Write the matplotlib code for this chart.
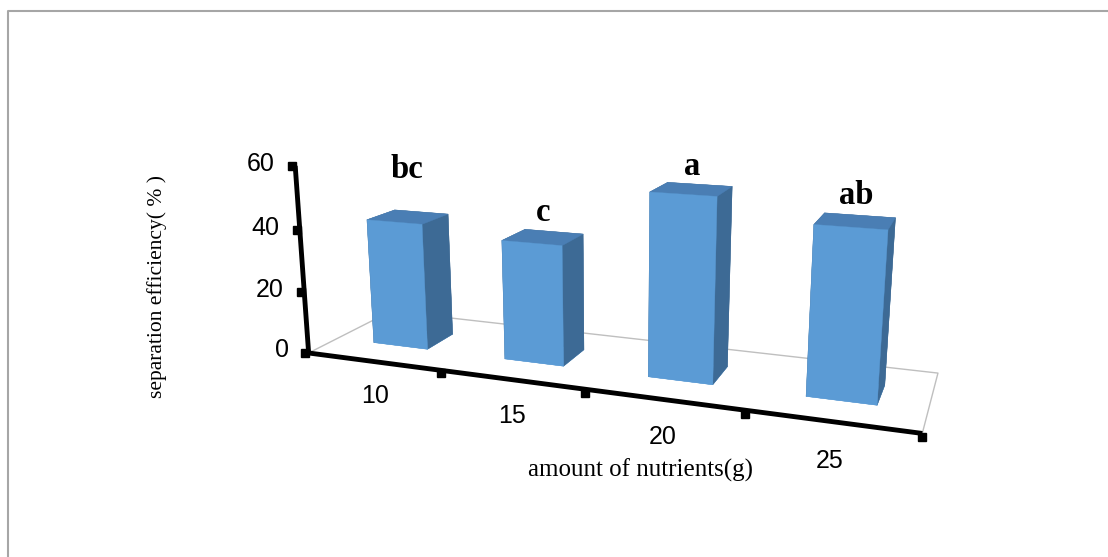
import numpy as np
import matplotlib
matplotlib.use('Agg')
import matplotlib.pyplot as plt
from matplotlib.lines import Line2D

# ---- data ----
categories = ['10', '15', '20', '25']
values = [41, 38, 56, 50]
letters = ['bc', 'c', 'a', 'ab']
letter_lift = [10.5, 3, 2.2, 2.8]
y_ticks = [0, 20, 40, 60]
x_title = 'amount of nutrients(g)'
y_title = 'separation efficiency( % )'

W, H = 1108, 557
fig = plt.figure(figsize=(W / 100, H / 100), dpi=100)
fig.patch.set_facecolor('white')

ax = fig.add_axes([0.3213, 0.0521, 0.4552, 0.9056], projection='3d',
                  computed_zorder=False)
ax.set_xlim(0, len(categories))
ax.set_ylim(0, 1)
ax.set_zlim(0, y_ticks[-1])
ax.set_box_aspect((0.508, 0.133, 0.161), zoom=1.3)
ax.view_init(elev=14.4, azim=-69.8)
ax.set_proj_type('persp', focal_length=0.41)
ax.set_axis_off()
for a in (ax.xaxis, ax.yaxis, ax.zaxis):
    a.label.set_visible(False)
    a.offsetText.set_visible(False)
    a.set_ticks([])

n = len(categories)
nx = float(n)

# floor outline
ax.plot([0, nx, nx, 0, 0], [0, 0, 1, 1, 0], [0, 0, 0, 0, 0],
        color='#BFBFBF', lw=1, zorder=1, clip_on=False)

# bars
bw, bd = 0.42, 0.34
xs = np.arange(n) + 0.5 - bw / 2
ys = np.full(n, 0.5 - bd / 2)
face = ['#5B9BD5', '#4A7EB4', '#5B9BD5', '#3D6A95', '#3D6A95', '#3D6A95']
bars = ax.bar3d(xs, ys, np.zeros(n), bw, bd, values, color=face * n,
                edgecolor=face * n, linewidth=0.3, shade=False, zorder=2)
bars.set_clip_on(False)

# axis lines
ax.plot([0, 0], [0, 0], [0, y_ticks[-1]], color='black', lw=3.5, zorder=3,
        solid_capstyle='butt', clip_on=False)
ax.plot([0, nx], [0, 0], [0, 0], color='black', lw=3.5, zorder=3,
        solid_capstyle='butt', clip_on=False)
# tick marks
ax.plot([-0.025] * len(y_ticks), [0] * len(y_ticks), y_ticks, ls='none',
        marker='s', ms=5.5, color='black', zorder=3, clip_on=False)
ax.plot(np.arange(1, n + 1), [0] * n, [-1] * n, ls='none',
        marker='s', ms=5.5, color='black', zorder=3, clip_on=False)

# tick labels
for t in y_ticks:
    ax.text(-0.16, 0, t, str(t), ha='right', va='center', fontsize=18,
            family='Liberation Sans', zorder=4)
for i, c in enumerate(categories):
    ax.text(i + 0.5, 0, -11.5, c, ha='center', va='center', fontsize=18,
            family='Liberation Sans', zorder=4)

# significance letters
for i, (v, s) in enumerate(zip(values, letters)):
    ax.text(i + 0.5, 0.5, v + letter_lift[i], s, ha='center', va='bottom',
            fontsize=23.5, fontweight='bold', family='Liberation Serif',
            zorder=4)

# axis titles
fig.text(157 / W, 1 - 286 / H, y_title, rotation=90, ha='center',
         va='center', fontsize=15.5, family='Liberation Serif')
fig.text(640 / W, 1 - 470 / H, x_title, ha='center', va='center',
         fontsize=18, family='Liberation Serif')

# outer frame
fig.add_artist(Line2D([8 / W, 8 / W, 1], [0, 1 - 10.5 / H, 1 - 10.5 / H],
                      transform=fig.transFigure, color='#A6A6A6', lw=1.5))

fig.savefig('out.png', dpi=100, facecolor='white')
